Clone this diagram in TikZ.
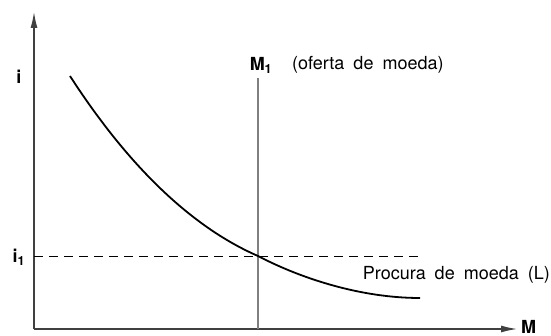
\documentclass[tikz,border=0pt]{standalone}
\usepackage{fontspec}
\setmainfont{TeX Gyre Heros}[WordSpace=1.8]
\usetikzlibrary{arrows.meta}
\tikzset{
  axis/.style={draw=black!75,line width=1.3pt},
  lab/.style={font=\fontsize{18}{21}\selectfont\bfseries,inner sep=0pt},
  txt/.style={font=\fontsize{18}{21}\selectfont,inner sep=0pt},
}
\begin{document}
\begin{tikzpicture}[>={Latex[length=16pt,width=7pt]},line join=bevel,x=1pt,y=-1pt]
    \useasboundingbox (0,0) rectangle (551,336);
    %%
    \coordinate (O) at (34,329);
    \coordinate (ytop) at (34,12);
    \coordinate (xend) at (517,329);
    \coordinate (Mtop) at (258,78);
    \coordinate (Mbot) at (258,329);
    \coordinate (i1) at (34,256);
    \coordinate (dashend) at (422,256);
    \coordinate (E) at (258,256);
    \coordinate (Lstart) at (70,76);
    \coordinate (Lend) at (420,298);
    \node (i) at (19,77) [lab] {i};
    \node (i1lab) at (19,257) [lab] {i\textsubscript{1}};
    \node (M1) at (261,65) [lab] {M\textsubscript{1}};
    \node (oferta) at (292,65) [txt,anchor=west] {(oferta de moeda)};
    \node (procura) at (550,275) [txt,anchor=east] {Procura de moeda (L)};
    \node (M) at (521,327) [lab,anchor=west] {M};
    \draw [axis,->] (O) -- (ytop);
    \draw [axis,->] (O) -- (xend);
    \draw [draw=black!50,line width=1.3pt] (Mbot) -- (Mtop);
    \draw [dashed,dash pattern=on 9pt off 6pt,line width=0.9pt] (i1) -- (dashend);
    \draw [line width=1.8pt] (Lstart) ..controls (132,172) and (196,229)  .. (E)
        ..controls (300,278) and (360,298)  .. (Lend);
    %
\end{tikzpicture}
\end{document}
